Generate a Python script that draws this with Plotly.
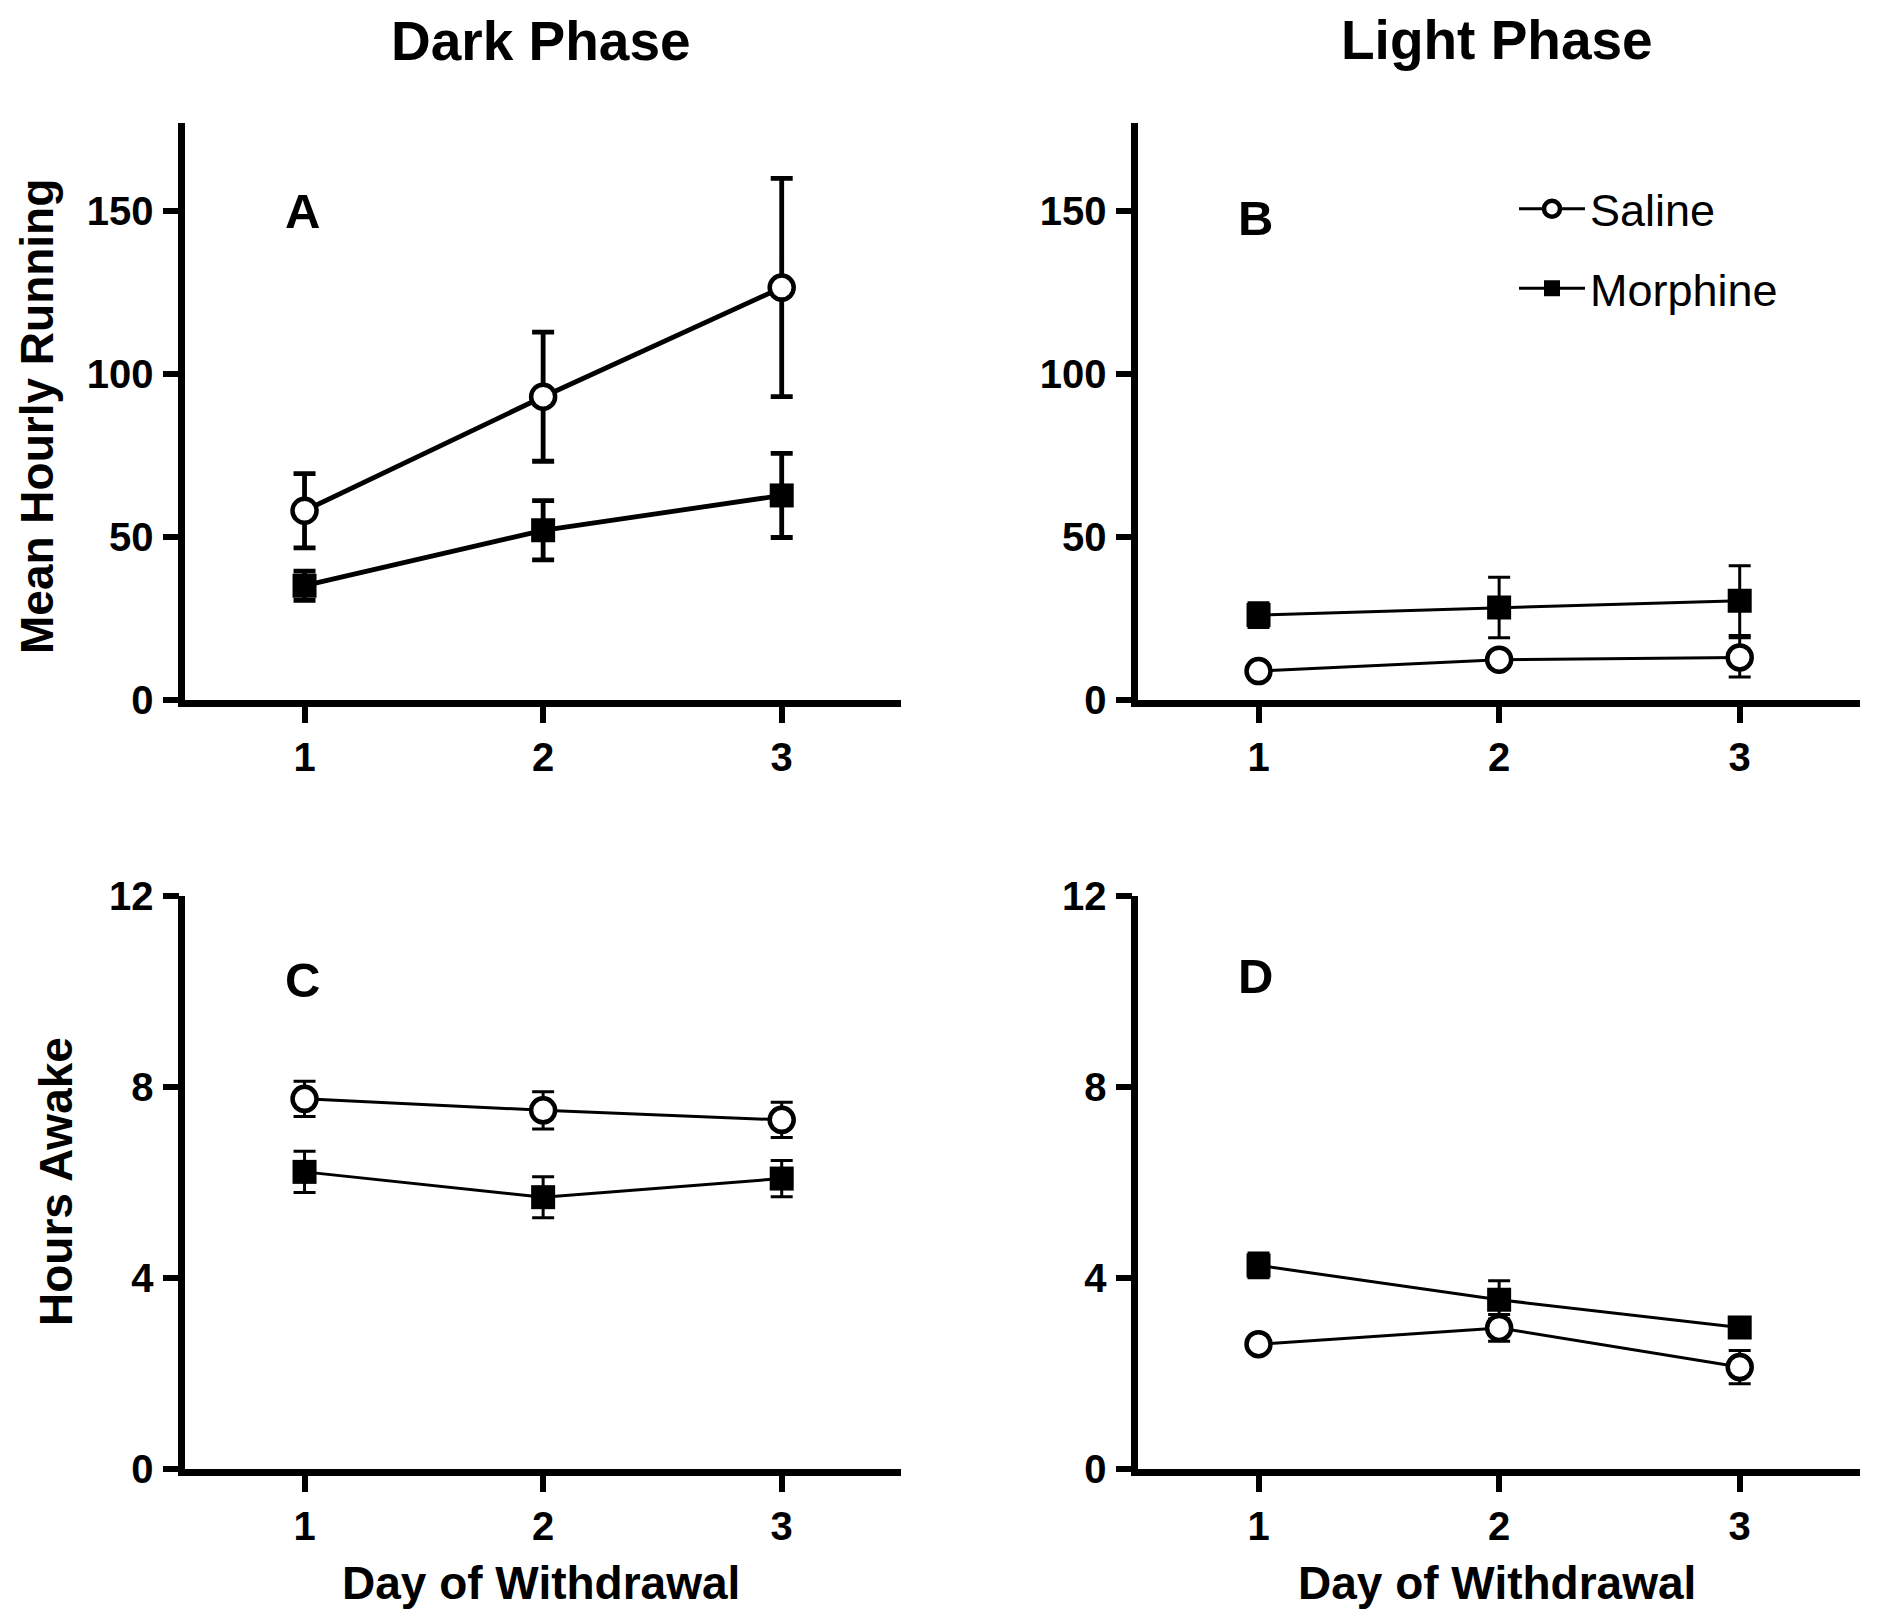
import plotly.graph_objects as go

W, H = 1878, 1622
OFF = 8  # page body margin compensation

days = [1, 2, 3]

# Panel A: dark phase, mean hourly running
run_dark_saline = [58.0, 93.0, 126.5]
run_dark_saline_sem = [11.4, 19.8, 33.5]
run_dark_morphine = [35.0, 52.0, 62.7]
run_dark_morphine_sem = [4.5, 9.1, 12.9]

# Panel B: light phase, mean hourly running
run_light_saline = [8.8, 12.3, 13.0]
run_light_saline_sem = [1.5, 2.0, 6.0]
run_light_morphine = [26.0, 28.3, 30.4]
run_light_morphine_sem = [3.8, 9.3, 10.7]

# Panel C: dark phase, hours awake
awake_dark_saline = [7.75, 7.51, 7.31]
awake_dark_saline_sem = [0.37, 0.39, 0.37]
awake_dark_morphine = [6.22, 5.69, 6.08]
awake_dark_morphine_sem = [0.43, 0.43, 0.38]

# Panel D: light phase, hours awake
awake_light_saline = [2.61, 2.95, 2.13]
awake_light_saline_sem = [0.10, 0.28, 0.35]
awake_light_morphine = [4.26, 3.54, 2.96]
awake_light_morphine_sem = [0.26, 0.40, 0.12]

run_ticks = [0, 50, 100, 150]
awake_ticks = [0, 4, 8, 12]
day_ticks = [1, 2, 3]

FONT = "Liberation Sans, Arial, sans-serif"

fig = go.Figure()


def add_pair(xa, ya, sal, sal_e, mor, mor_e, lw, show):
    # morphine (filled square)
    fig.add_trace(go.Scatter(
        x=days, y=mor, mode="lines+markers", name="Morphine",
        xaxis=xa, yaxis=ya, showlegend=show, legendrank=2, legendgroup="m",
        line=dict(color="black", width=lw),
        marker=dict(symbol="square", size=24, color="black",
                    line=dict(color="black", width=0)),
        error_y=dict(type="data", array=mor_e, visible=True, color="black",
                     thickness=lw, width=11),
    ))
    # saline (open circle)
    fig.add_trace(go.Scatter(
        x=days, y=sal, mode="lines+markers", name="Saline",
        xaxis=xa, yaxis=ya, showlegend=show, legendrank=1, legendgroup="s",
        line=dict(color="black", width=lw),
        marker=dict(symbol="circle", size=24, color="white",
                    line=dict(color="black", width=4.5)),
        error_y=dict(type="data", array=sal_e, visible=True, color="black",
                     thickness=lw, width=11),
    ))


add_pair("x", "y", run_dark_saline, run_dark_saline_sem,
         run_dark_morphine, run_dark_morphine_sem, 4.8, False)
add_pair("x2", "y2", run_light_saline, run_light_saline_sem,
         run_light_morphine, run_light_morphine_sem, 3, True)
add_pair("x3", "y3", awake_dark_saline, awake_dark_saline_sem,
         awake_dark_morphine, awake_dark_morphine_sem, 3, False)
add_pair("x4", "y4", awake_light_saline, awake_light_saline_sem,
         awake_light_morphine, awake_light_morphine_sem, 3, False)

LW = 6.5


def px(x):
    return (x - OFF) / W


def py(y):
    return 1 - (y - OFF) / H


def xdom(l, r):
    return [px(l + LW / 2), px(r)]


def ydom(top, bottom):
    return [py(bottom - LW / 2), py(top)]


common_axis = dict(
    showline=True, linecolor="black", linewidth=LW,
    ticks="outside", ticklen=16, tickwidth=6, tickcolor="black",
    showgrid=False, zeroline=False, automargin=False,
    tickfont=dict(family=FONT, size=40, color="black", weight="bold"),
)

xA = xdom(182, 901)
xB = xdom(1135, 1860)
yTop = ydom(123, 703)
yBot = ydom(896, 1472)

for name, dom, anchor in [("xaxis", xA, "y"), ("xaxis2", xB, "y2"),
                          ("xaxis3", xA, "y3"), ("xaxis4", xB, "y4")]:
    fig.layout[name] = dict(common_axis, domain=dom, anchor=anchor,
                            range=[0.5, 3.5], tickvals=day_ticks,
                            ticklabelstandoff=0)

for name, dom, anchor, rng, tv in [
        ("yaxis", yTop, "x", [0, 177], run_ticks),
        ("yaxis2", yTop, "x2", [0, 177], run_ticks),
        ("yaxis3", yBot, "x3", [0, 12], awake_ticks),
        ("yaxis4", yBot, "x4", [0, 12], awake_ticks)]:
    fig.layout[name] = dict(common_axis, domain=dom, anchor=anchor,
                            range=rng, tickvals=tv, ticklabelstandoff=1)


def ann(text, x, y, size, bold=True, angle=0):
    fig.add_annotation(
        text=text, x=px(x), y=py(y), xref="paper", yref="paper",
        showarrow=False, textangle=angle, xanchor="center", yanchor="middle",
        font=dict(family=FONT, size=size, color="black",
                  weight="bold" if bold else "normal"),
    )


ann("Dark Phase", 541, 41, 55)
ann("Light Phase", 1497, 40, 55)
ann("Mean Hourly Running", 37, 417, 46, angle=-90)
ann("Hours Awake", 56, 1182, 46, angle=-90)
ann("Day of Withdrawal", 541, 1583, 46)
ann("Day of Withdrawal", 1497, 1583, 46)
ann("A", 302, 211, 49)
ann("B", 1255, 218, 49)
ann("C", 302, 980, 49)
ann("D", 1255, 976, 49)

fig.update_layout(
    width=W, height=H,
    margin=dict(l=0, r=0, t=0, b=0, autoexpand=False),
    paper_bgcolor="white", plot_bgcolor="white",
    font=dict(family=FONT, color="black"),
    legend=dict(
        x=px(1514), y=py(173), xanchor="left", yanchor="top",
        bgcolor="rgba(0,0,0,0)", borderwidth=0,
        font=dict(family=FONT, size=45, color="black"),
        itemwidth=66, tracegroupgap=18, traceorder="grouped",
    ),
)

fig.write_html("out.html")
